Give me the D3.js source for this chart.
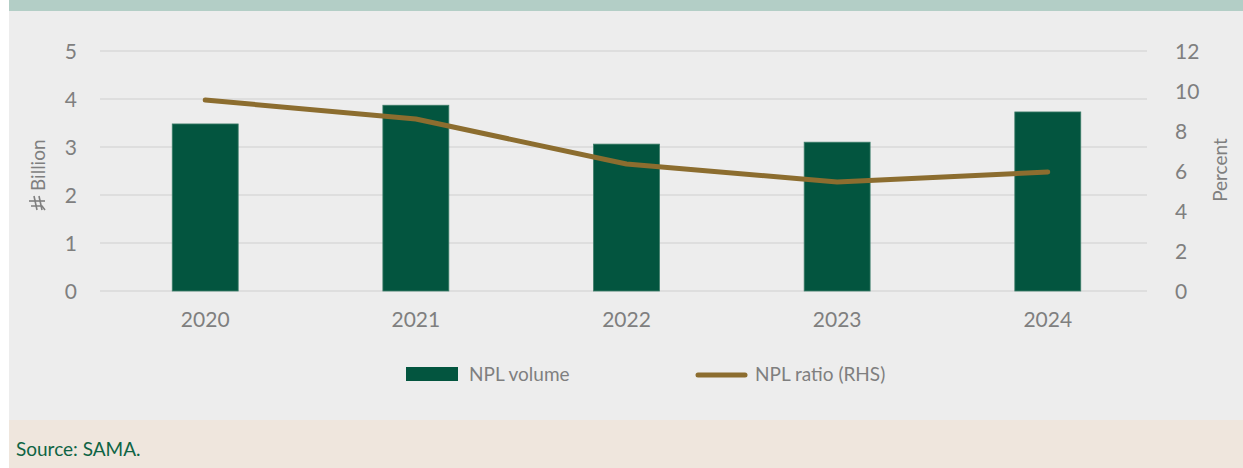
<!DOCTYPE html>
<html>
<head>
<meta charset="utf-8">
<script src="https://cdn.jsdelivr.net/npm/d3@7"></script>
<style>
  body { margin: 0; background: #fff; }
  text { font-family: Lato, "Open Sans", sans-serif; }
</style>
</head>
<body>
<div id="chart"></div>
<script>
// chart data
var years = ["2020", "2021", "2022", "2023", "2024"];
var nplVolume = [3.48, 3.87, 3.06, 3.10, 3.73];   // SAR billion
var nplRatio = [9.55, 8.6, 6.35, 5.45, 5.95];     // percent (RHS)
var leftTicks = [0, 1, 2, 3, 4, 5];
var rightTicks = [0, 2, 4, 6, 8, 10, 12];

var svgWidth = 1243;
var svgHeight = 468;

var svg = d3.select("#chart")
    .append("svg")
    .attr("width", svgWidth)
    .attr("height", svgHeight);

// panel backgrounds
svg.append("rect").attr("x", 9).attr("y", 0).attr("width", svgWidth - 9).attr("height", 420).attr("fill", "#ededed");
svg.append("rect").attr("x", 9).attr("y", 0).attr("width", svgWidth - 9).attr("height", 11).attr("fill", "#b3cec6");
svg.append("rect").attr("x", 9).attr("y", 420).attr("width", svgWidth - 9).attr("height", 48).attr("fill", "#efe6dd");

// plot area
var plot = { left: 100, right: 1153, top: 51, bottom: 291 };

var x = d3.scaleBand()
    .domain(years)
    .range([plot.left, plot.right])
    .paddingInner(0.687)
    .paddingOuter(0.343);

var yLeft = d3.scaleLinear().domain([0, 5]).range([plot.bottom, plot.top]);
var yRight = d3.scaleLinear().domain([0, 12]).range([plot.bottom, plot.top]);

// gridlines
svg.append("g")
    .selectAll("line")
    .data(leftTicks)
    .enter().append("line")
    .attr("x1", plot.left)
    .attr("x2", 1147)
    .attr("y1", d => yLeft(d))
    .attr("y2", d => yLeft(d))
    .attr("stroke", "#d9d9d9")
    .attr("stroke-width", 1.5);

// left axis
var leftAxis = svg.append("g")
    .attr("transform", `translate(77, 0)`)
    .call(d3.axisLeft(yLeft).tickValues(leftTicks).tickFormat(d3.format("d")).tickSize(0).tickPadding(0));
leftAxis.select(".domain").remove();
leftAxis.selectAll("text").style("font-size", "21px").attr("fill", "#7f7f7f").attr("dy", "0.35em");

// right axis
var rightAxis = svg.append("g")
    .attr("transform", `translate(1175, 0)`)
    .call(d3.axisRight(yRight).tickValues(rightTicks).tickFormat(d3.format("d")).tickSize(0).tickPadding(0));
rightAxis.select(".domain").remove();
rightAxis.selectAll("text").style("font-size", "21px").attr("fill", "#7f7f7f").attr("dy", "0.35em");

// bottom axis labels
var bottomAxis = svg.append("g")
    .attr("transform", `translate(0, ${plot.bottom})`)
    .call(d3.axisBottom(x).tickSize(0).tickPadding(21));
bottomAxis.select(".domain").remove();
bottomAxis.selectAll("text").style("font-size", "21px").attr("fill", "#7f7f7f");

// bars
svg.append("g")
    .selectAll("rect")
    .data(nplVolume)
    .enter().append("rect")
    .attr("x", (d, i) => x(years[i]))
    .attr("y", d => yLeft(d))
    .attr("width", x.bandwidth())
    .attr("height", d => yLeft(0) - yLeft(d))
    .attr("fill", "#03553f")
    .attr("stroke", "#3d7d69")
    .attr("stroke-width", 0.8);

// ratio line
var line = d3.line()
    .x((d, i) => x(years[i]) + x.bandwidth() / 2)
    .y(d => yRight(d));

svg.append("path")
    .datum(nplRatio)
    .attr("d", line)
    .attr("fill", "none")
    .attr("stroke", "#8c6d2f")
    .attr("stroke-width", 5)
    .attr("stroke-linecap", "round")
    .attr("stroke-linejoin", "round");

// axis titles
svg.append("text")
    .attr("transform", "translate(45, 191) rotate(-90)")
    .attr("text-anchor", "start")
    .style("font-size", "19px")
    .attr("fill", "#7f7f7f")
    .text("Billion");

// riyal sign drawn as a small glyph before "Billion"
var rs = svg.append("g")
    .attr("transform", "translate(31, 210) rotate(-90)")
    .attr("stroke", "#7f7f7f")
    .attr("stroke-width", 1.6)
    .attr("fill", "none");
rs.append("path").attr("d", "M4,0 L4,11 L0,14");
rs.append("path").attr("d", "M9,-2 L9,14");
rs.append("path").attr("d", "M0,6 L14,3");
rs.append("path").attr("d", "M0,11 L14,8");

svg.append("text")
    .attr("transform", "translate(1227, 170) rotate(-90)")
    .attr("text-anchor", "middle")
    .style("font-size", "19px")
    .attr("fill", "#7f7f7f")
    .text("Percent");

// legend
var legend = svg.append("g");
legend.append("rect")
    .attr("x", 406).attr("y", 367)
    .attr("width", 52).attr("height", 14)
    .attr("fill", "#03553f");
legend.append("text")
    .attr("x", 469).attr("y", 381)
    .style("font-size", "19px")
    .attr("fill", "#7f7f7f")
    .text("NPL volume");
legend.append("line")
    .attr("x1", 698).attr("x2", 745)
    .attr("y1", 375).attr("y2", 375)
    .attr("stroke", "#8c6d2f")
    .attr("stroke-width", 5)
    .attr("stroke-linecap", "round");
legend.append("text")
    .attr("x", 755).attr("y", 381)
    .style("font-size", "19px")
    .attr("fill", "#7f7f7f")
    .text("NPL ratio (RHS)");

// source note
svg.append("text")
    .attr("x", 16).attr("y", 456)
    .style("font-size", "19px")
    .attr("fill", "#0e6444")
    .text("Source: SAMA.");
</script>
</body>
</html>
